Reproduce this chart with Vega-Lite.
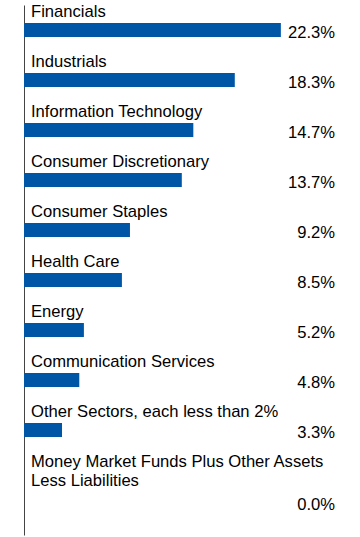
{
  "$schema": "https://vega.github.io/schema/vega-lite/v6.json",
  "autosize": {"type": "none"},
  "padding": {"left": 24, "top": 5, "right": 25, "bottom": 2},
  "width": 311,
  "height": 530,
  "background": "white",
  "config": {
    "view": {"stroke": null},
    "font": "Liberation Sans",
    "text": {"font": "Liberation Sans", "fontSize": 16.6, "color": "#000000"}
  },
  "data": {
    "values": [
      {"sector": "Financials", "value": 0.223},
      {"sector": "Industrials", "value": 0.183},
      {"sector": "Information Technology", "value": 0.147},
      {"sector": "Consumer Discretionary", "value": 0.137},
      {"sector": "Consumer Staples", "value": 0.092},
      {"sector": "Health Care", "value": 0.085},
      {"sector": "Energy", "value": 0.052},
      {"sector": "Communication Services", "value": 0.048},
      {"sector": "Other Sectors, each less than 2%", "value": 0.033},
      {"sector": "Money Market Funds Plus Other Assets\nLess Liabilities", "value": 0.0}
    ]
  },
  "encoding": {
    "y": {
      "field": "sector",
      "type": "nominal",
      "sort": null,
      "scale": {"paddingInner": 0, "paddingOuter": 0.3, "align": 0},
      "axis": {"labels": false, "ticks": false, "title": null, "domain": true, "domainColor": "#444444", "domainWidth": 1, "grid": false}
    }
  },
  "layer": [
    {
      "mark": {"type": "bar", "height": 14, "color": "#0056A6"},
      "encoding": {
        "x": {"field": "value", "type": "quantitative", "scale": {"domain": [0, 0.27], "nice": false}, "axis": null}
      }
    },
    {
      "mark": {"type": "text", "align": "left", "baseline": "alphabetic", "dx": 7, "dy": -13, "lineBreak": "\n", "lineHeight": 19},
      "encoding": {
        "x": {"value": 0},
        "text": {"field": "sector", "type": "nominal"}
      }
    },
    {
      "transform": [{"filter": "indexof(datum.sector, '\\n') < 0"}],
      "mark": {"type": "text", "align": "right", "baseline": "alphabetic", "dy": 8},
      "encoding": {
        "x": {"value": "width"},
        "text": {"field": "value", "type": "quantitative", "format": ".1%"}
      }
    },
    {
      "transform": [{"filter": "indexof(datum.sector, '\\n') >= 0"}],
      "mark": {"type": "text", "align": "right", "baseline": "alphabetic", "dy": 30},
      "encoding": {
        "x": {"value": "width"},
        "text": {"field": "value", "type": "quantitative", "format": ".1%"}
      }
    }
  ]
}
